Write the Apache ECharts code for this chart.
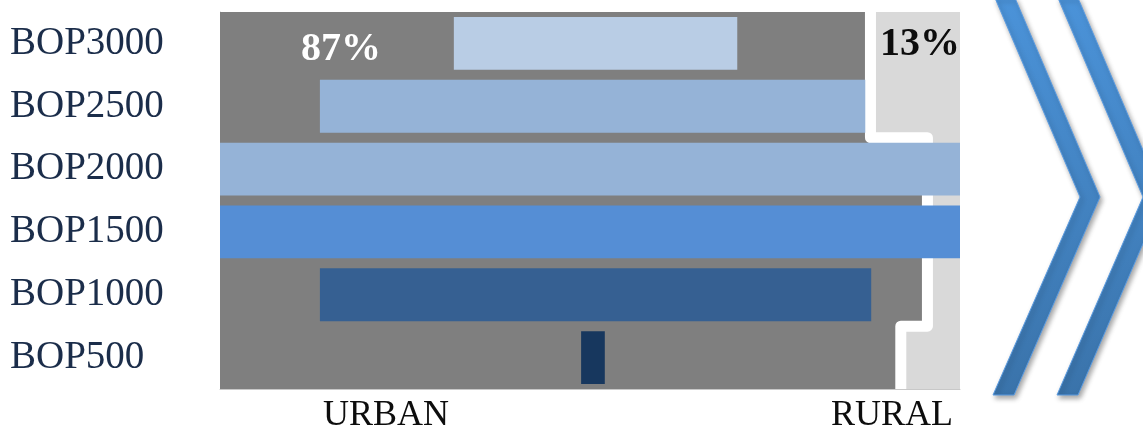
<!DOCTYPE html>
<html>
<head>
<meta charset="utf-8">
<title>BOP urban / rural</title>
<script src="https://cdn.jsdelivr.net/npm/echarts@6/dist/echarts.min.js"></script>
<style>
  html, body { margin: 0; padding: 0; background: #ffffff; }
  #chart { width: 1143px; height: 432px; }
</style>
</head>
<body>
<div id="chart"></div>
<script>
// Income brackets, top to bottom
const categories = ['BOP3000', 'BOP2500', 'BOP2000', 'BOP1500', 'BOP1000', 'BOP500'];
// Horizontal extent of each bracket bar (percent of the width)
const barStart = [31.6, 13.5, 0, 0, 13.5, 48.8];
const barEnd = [69.9, 87.2, 100, 100, 88.0, 52.0];
const barColors = ['#b9cde5', '#95b3d7', '#95b3d7', '#558ed5', '#366092', '#17375e'];
// Urban share per bracket: dark region left of it, rural region right of it
const urbanShare = [87.9, 87.9, 95.6, 95.6, 95.6, 92.0];
const shareLabels = ['87%', '13%'];
const zoneLabels = ['URBAN', 'RURAL'];

const chart = echarts.init(document.getElementById('chart'));

const serif = '"Liberation Serif", "DejaVu Serif", serif';

// Rural backdrop, stepped urban area on top of it, and the white border between them
function renderZones(params, api) {
  const band = api.size([0, 1])[1];
  const n = categories.length;
  const first = api.coord([0, 0]);
  const last = api.coord([100, n - 1]);
  const top = first[1] - band / 2;
  const bottom = last[1] + band / 2;
  const x0 = first[0];
  const x1 = last[0];

  const steps = [];
  for (let i = 0; i < n; i++) {
    const p = api.coord([urbanShare[i], i]);
    steps.push([p[0], p[1] - band / 2]);
    steps.push([p[0], p[1] + band / 2]);
  }
  const urbanPoly = [[x0, top]].concat(steps).concat([[x0, bottom]]);

  return {
    type: 'group',
    children: [
      { type: 'rect', shape: { x: x0, y: top, width: x1 - x0, height: bottom - top },
        style: { fill: '#d9d9d9' } },
      { type: 'polygon', shape: { points: urbanPoly }, style: { fill: '#7f7f7f' } },
      { type: 'polyline', shape: { points: steps },
        style: { stroke: '#ffffff', lineWidth: 11, fill: null, lineJoin: 'round', lineCap: 'butt' } }
    ]
  };
}

function chevron(x0, x1, tipOuter, tipInner, bx0, bx1, yTop, yTip, yBot) {
  return {
    type: 'polygon',
    shape: { points: [[x0, yTop], [x1, yTop], [tipOuter, yTip], [bx1, yBot], [bx0, yBot], [tipInner, yTip]] },
    style: {
      fill: new echarts.graphic.LinearGradient(0, 0, 0, 1, [
        { offset: 0, color: '#4b93d9' },
        { offset: 1, color: '#3a73aa' }
      ]),
      stroke: '#5b9be0',
      lineWidth: 1,
      shadowBlur: 5,
      shadowOffsetX: 2,
      shadowOffsetY: 3,
      shadowColor: 'rgba(0,0,0,0.35)'
    }
  };
}

function textEl(text, x, y, font, fill) {
  return {
    type: 'text', x: x, y: y, z: 100,
    style: { text: text, font: font, fill: fill, align: 'center', verticalAlign: 'middle',
             textAlign: 'center', textVerticalAlign: 'middle' }
  };
}

chart.setOption({
  animation: false,
  backgroundColor: '#ffffff',
  grid: { left: 220, right: 183, top: 12, bottom: 43 },
  xAxis: {
    type: 'value', min: 0, max: 100,
    axisLabel: { show: false }, axisTick: { show: false }, splitLine: { show: false },
    axisLine: { show: true, lineStyle: { color: '#c8c8c8', width: 1 } }
  },
  yAxis: {
    type: 'category', inverse: true, data: categories,
    axisTick: { show: false },
    axisLine: { show: true, lineStyle: { color: '#c8c8c8', width: 1 } },
    axisLabel: {
      align: 'left', margin: 210,
      fontFamily: serif, fontSize: 39, color: '#1b2d4a'
    }
  },
  series: [
    {
      type: 'custom', z: 1, renderItem: renderZones,
      data: [[urbanShare[0], 0]], silent: true
    },
    {
      type: 'bar', stack: 'bop', z: 3, barWidth: '84%',
      itemStyle: { color: 'rgba(0,0,0,0)' },
      data: barStart, silent: true
    },
    {
      type: 'bar', stack: 'bop', z: 3, barWidth: '84%',
      data: barEnd.map((e, i) => ({ value: e - barStart[i], itemStyle: { color: barColors[i] } }))
    }
  ],
  graphic: [
    chevron(995, 1015, 1100, 1080, 993, 1014, -2, 197, 395),
    chevron(1058, 1078, 1163, 1143, 1057, 1078, -2, 197, 395),
    textEl(shareLabels[0], 341, 50, 'bold 40px ' + serif, '#ffffff'),
    textEl(shareLabels[1], 920, 45, 'bold 40px ' + serif, '#0d0d0d'),
    textEl(zoneLabels[0], 386, 416, '36px ' + serif, '#0d0d0d'),
    textEl(zoneLabels[1], 892, 416, '36px ' + serif, '#0d0d0d')
  ]
});
</script>
</body>
</html>
